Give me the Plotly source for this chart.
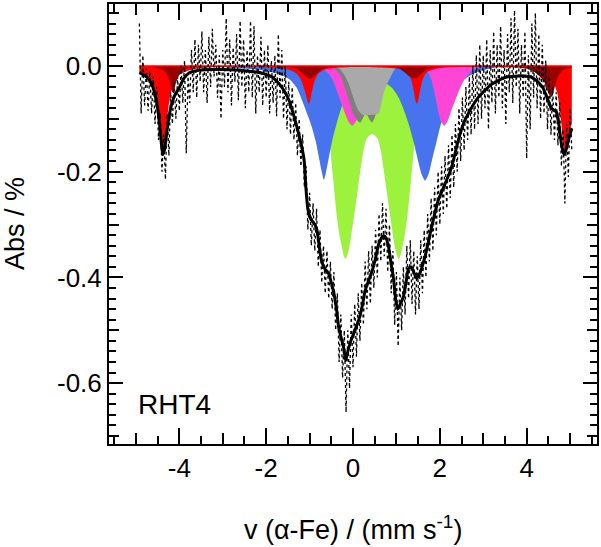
import plotly.graph_objects as go

# ---------------- data ----------------
# measured spectrum: channel velocities start / step, absorption values (%)
V_START = -4.92
V_STEP = 0.04
ABS_DATA = [0.08, -0.09, 0.02, -0.075, -0.005, -0.085, -0.01, -0.09, -0.02, -0.11,
            -0.04, -0.14, -0.09, -0.2, -0.13, -0.215, -0.09, -0.17, -0.05, -0.11,
            -0.03, -0.1, -0.02, -0.085, 0.0, -0.07, 0.01, -0.165, -0.02, -0.07,
            0.03, -0.05, 0.05, -0.06, 0.04, -0.03, 0.065, -0.05, 0.03, -0.07,
            0.055, -0.04, 0.07, -0.02, 0.04, -0.06, 0.02, -0.1, 0.03, -0.04,
            0.09, -0.05, 0.05, -0.075, 0.035, -0.03, 0.06, -0.065, 0.085, -0.04,
            0.05, -0.08, 0.03, -0.05, 0.085, -0.06, 0.075, -0.09, 0.02, -0.05,
            0.055, -0.075, 0.03, -0.06, 0.04, -0.09, 0.01, -0.07, 0.02, -0.095,
            0.06, -0.06, 0.03, -0.1, 0.0, -0.12, -0.03, -0.13, -0.04, -0.14,
            -0.07, -0.17, -0.1, -0.19, -0.13, -0.23, -0.19, -0.31, -0.24, -0.34,
            -0.26, -0.35, -0.27, -0.38, -0.31, -0.41, -0.34, -0.43, -0.35, -0.44,
            -0.37, -0.46, -0.39, -0.5, -0.43, -0.56, -0.47, -0.59, -0.5, -0.655,
            -0.5, -0.61, -0.47, -0.57, -0.45, -0.55, -0.43, -0.52, -0.41, -0.49,
            -0.37, -0.46, -0.35, -0.45, -0.34, -0.42, -0.31, -0.4, -0.28, -0.37,
            -0.26, -0.36, -0.27, -0.39, -0.3, -0.43, -0.35, -0.49, -0.39, -0.53,
            -0.4, -0.5, -0.38, -0.47, -0.34, -0.44, -0.33, -0.45, -0.35, -0.47,
            -0.36, -0.46, -0.33, -0.43, -0.31, -0.4, -0.28, -0.37, -0.25, -0.35,
            -0.23, -0.32, -0.2, -0.3, -0.19, -0.28, -0.17, -0.27, -0.15, -0.25,
            -0.13, -0.23, -0.11, -0.2, -0.08, -0.18, -0.06, -0.16, -0.04, -0.14,
            -0.02, -0.13, 0.0, -0.12, 0.02, -0.11, 0.04, -0.1, 0.02, -0.08,
            0.05, -0.12, 0.03, -0.07, 0.065, -0.09, 0.04, -0.06, 0.075, -0.08,
            0.03, -0.11, 0.06, -0.05, 0.09, -0.07, 0.105, -0.04, 0.07, -0.09,
            0.04, -0.06, 0.065, -0.175, 0.02, -0.12, 0.08, -0.06, 0.1, -0.08,
            0.06, -0.1, 0.04, -0.09, 0.01, -0.12, -0.02, -0.13, -0.04, -0.14,
            -0.05, -0.15, -0.07, -0.19, -0.12, -0.26, -0.11, -0.21, -0.08, -0.16]

# total fit
FIT_V = [-4.92, -4.8, -4.7, -4.62, -4.55, -4.5, -4.45, -4.41, -4.38, -4.34, -4.28, -4.2,
         -4.12, -4.0, -3.9, -3.77, -3.6, -3.3, -3.0, -2.7, -2.4, -2.2, -2.0, -1.85,
         -1.7, -1.58, -1.47, -1.36, -1.25, -1.13, -1.09, -1.04, -0.97, -0.88, -0.83,
         -0.78, -0.72, -0.64, -0.56, -0.5, -0.44, -0.38, -0.33, -0.27, -0.21, -0.17,
         -0.12, -0.05, 0.02, 0.13, 0.21, 0.28, 0.36, 0.45, 0.51, 0.6, 0.7, 0.76, 0.82,
         0.88, 0.93, 0.98, 1.03, 1.09, 1.16, 1.22, 1.28, 1.34, 1.4, 1.47, 1.55, 1.66,
         1.81, 1.96, 2.12, 2.27, 2.42, 2.55, 2.65, 2.88, 3.19, 3.5, 3.8, 3.95, 4.1,
         4.18, 4.28, 4.37, 4.47, 4.56, 4.63, 4.68, 4.74, 4.79, 4.83, 4.86, 4.91, 4.97, 5.04]
FIT_A = [-0.013, -0.018, -0.026, -0.038, -0.058, -0.08, -0.115, -0.15, -0.168, -0.158, -0.12, -0.08,
         -0.058, -0.041, -0.024, -0.013, -0.009, -0.007, -0.007, -0.008, -0.01, -0.012, -0.016, -0.022,
         -0.034, -0.048, -0.066, -0.095, -0.129, -0.175, -0.225, -0.27, -0.29, -0.3, -0.31,
         -0.34, -0.37, -0.385, -0.393, -0.41, -0.43, -0.46, -0.494, -0.515, -0.535, -0.557,
         -0.54, -0.52, -0.505, -0.481, -0.455, -0.425, -0.406, -0.385, -0.367, -0.335, -0.321, -0.325, -0.343,
         -0.375, -0.40, -0.44, -0.46, -0.45, -0.437, -0.41, -0.383, -0.38, -0.39, -0.402, -0.39, -0.36,
         -0.305, -0.255, -0.223, -0.192, -0.142, -0.108, -0.091, -0.06, -0.035, -0.022, -0.019, -0.019, -0.021,
         -0.025, -0.032, -0.041, -0.06, -0.079, -0.084, -0.087, -0.11, -0.142, -0.16, -0.167, -0.158, -0.138, -0.118]

# sub-spectra (drawn bottom to top)
GREEN_V = [-1.2, -1.0, -0.85, -0.7, -0.6, -0.52, -0.45, -0.37, -0.3, -0.25, -0.21, -0.17, -0.12, -0.06,
           0.02, 0.1, 0.17, 0.24, 0.32, 0.44, 0.56, 0.64, 0.71, 0.78, 0.86, 0.94, 1.0, 1.05, 1.09,
           1.13, 1.18, 1.25, 1.33, 1.4, 1.48, 1.58, 1.73, 1.88, 2.1]
GREEN_A = [0.0, -0.01, -0.025, -0.06, -0.1, -0.16, -0.22, -0.286, -0.325, -0.345, -0.36, -0.365, -0.355, -0.33,
           -0.286, -0.24, -0.198, -0.16, -0.137, -0.129, -0.137, -0.16, -0.198, -0.24, -0.286, -0.33, -0.355, -0.365, -0.36,
           -0.345, -0.325, -0.286, -0.22, -0.16, -0.1, -0.06, -0.025, -0.01, 0.0]

BLUE_V = [-2.95, -2.8, -2.5, -2.2, -2.0, -1.8, -1.6, -1.45, -1.3, -1.15, -1.05, -0.95, -0.86, -0.78,
          -0.72, -0.67, -0.62, -0.56, -0.48, -0.38, -0.25, -0.1, 0.1, 0.3, 0.5, 0.7, 0.9, 1.05, 1.2,
          1.3, 1.4, 1.5, 1.58, 1.66, 1.74, 1.82, 1.92, 2.02, 2.15, 2.3, 2.5, 2.7, 3.0, 3.3, 3.5]
BLUE_A = [0.0, -0.004, -0.005, -0.007, -0.01, -0.013, -0.019, -0.026, -0.041, -0.07, -0.092, -0.115, -0.142, -0.175,
          -0.2, -0.215, -0.2, -0.175, -0.142, -0.11, -0.075, -0.05, -0.033, -0.028, -0.027, -0.03, -0.042, -0.06, -0.09,
          -0.115, -0.145, -0.18, -0.205, -0.217, -0.205, -0.178, -0.145, -0.112, -0.083, -0.058, -0.03, -0.018, -0.008, -0.003, 0.0]

MAGENTA_V = [-0.9, -0.7, -0.55, -0.45, -0.33, -0.25, -0.17, -0.1, -0.02, 0.06, 0.14, 0.25, 0.35, 0.5,
             0.7, 0.9, 1.2, 1.55, 1.7, 1.8, 1.9, 1.97, 2.03, 2.1, 2.17, 2.25, 2.35, 2.45, 2.55, 2.7, 2.85, 3.0]
MAGENTA_A = [0.0, -0.006, -0.016, -0.03, -0.057, -0.075, -0.093, -0.106, -0.113, -0.106, -0.09, -0.065, -0.045, -0.022,
             -0.008, -0.003, -0.001, -0.002, -0.009, -0.025, -0.06, -0.088, -0.105, -0.113, -0.106, -0.088, -0.066, -0.045,
             -0.028, -0.012, -0.004, 0.0]

DGRAY_V = [-0.6, -0.45, -0.35, -0.25, -0.17, -0.08, 0.0, 0.06, 0.12, 0.17, 0.22, 0.28, 0.33, 0.39, 0.44,
           0.49, 0.56, 0.65, 0.75, 0.9, 1.05]
DGRAY_A = [0.0, -0.005, -0.012, -0.027, -0.047, -0.07, -0.09, -0.099, -0.105, -0.107, -0.1, -0.092, -0.094, -0.103,
           -0.107, -0.1, -0.08, -0.05, -0.025, -0.008, 0.0]

LGRAY_V = [-0.4, -0.3, -0.2, -0.1, 0.0, 0.07, 0.13, 0.21, 0.3, 0.4, 0.5, 0.59, 0.65, 0.7, 0.78, 0.86, 0.97, 1.1]
LGRAY_A = [0.0, -0.006, -0.017, -0.034, -0.058, -0.075, -0.085, -0.092, -0.093, -0.093, -0.092, -0.09, -0.072,
           -0.053, -0.035, -0.022, -0.006, 0.0]

RED_V = [-4.92, -4.8, -4.7, -4.6, -4.55, -4.5, -4.45, -4.4, -4.38, -4.35, -4.3, -4.25, -4.2, -4.1, -4.0,
         -3.8, -3.5, -3.0, -2.0, -1.5, -1.3, -1.2, -1.15, -1.1, -1.05, -1.02, -0.99, -0.95, -0.9, -0.8,
         -0.6, 0.0, 1.0, 1.2, 1.3, 1.35, 1.4, 1.44, 1.47, 1.5, 1.55, 1.6, 1.7, 2.0, 3.0, 4.0, 4.3, 4.5,
         4.6, 4.7, 4.75, 4.8, 4.85, 4.9, 4.95, 5.0, 5.04]
RED_A = [-0.012, -0.016, -0.022, -0.04, -0.057, -0.083, -0.122, -0.152, -0.155, -0.148, -0.115, -0.078, -0.053,
         -0.028, -0.017, -0.009, -0.004, -0.002, -0.003, -0.007, -0.015, -0.026, -0.037, -0.05, -0.066, -0.072,
         -0.067, -0.05, -0.033, -0.015, -0.006, -0.002, -0.005, -0.009, -0.019, -0.029, -0.048, -0.066, -0.072,
         -0.066, -0.044, -0.027, -0.012, -0.004, -0.002, -0.005, -0.01, -0.019, -0.029, -0.05, -0.075, -0.11,
         -0.155, -0.168, -0.15, -0.125, -0.105]

MAROON_V = [-4.92, -4.6, -4.5, -4.4, -4.3, -4.25, -4.2, -4.16, -4.12, -4.08, -4.0, -3.9, -3.8, -3.5, -1.5,
            -1.3, -1.2, -1.1, -1.0, -0.9, -0.8, -0.7, -0.5, 1.0, 1.1, 1.2, 1.3, 1.4, 1.5, 1.6, 1.7, 1.9,
            3.8, 4.0, 4.15, 4.3, 4.4, 4.48, 4.56, 4.62, 4.68, 4.76, 4.86, 5.04]
MAROON_A = [0.0, -0.002, -0.004, -0.007, -0.014, -0.022, -0.036, -0.05, -0.046, -0.033, -0.017, -0.008, -0.004,
            -0.001, -0.002, -0.006, -0.011, -0.019, -0.025, -0.02, -0.012, -0.006, -0.002, -0.003, -0.007, -0.013,
            -0.02, -0.024, -0.021, -0.013, -0.007, -0.003, -0.002, -0.005, -0.01, -0.02, -0.03, -0.047, -0.06,
            -0.048, -0.03, -0.015, -0.007, -0.003]

COMPONENTS = [
    ("green", GREEN_V, GREEN_A, "#9CF23C"),
    ("blue", BLUE_V, BLUE_A, "#4774EE"),
    ("magenta", MAGENTA_V, MAGENTA_A, "#FF45D6"),
    ("darkgray", DGRAY_V, DGRAY_A, "#7F7F7F"),
    ("lightgray", LGRAY_V, LGRAY_A, "#A9A9A9"),
    ("red", RED_V, RED_A, "#FF0000"),
    ("maroon", MAROON_V, MAROON_A, "#980000"),
]

X_LABEL_TICKS = [-4, -2, 0, 2, 4]
X_LABELS = ["-4", "-2", "0", "2", "4"]
X_MID_TICKS = [-5, -3, -1, 1, 3, 5]
Y_LABEL_TICKS = [0.0, -0.2, -0.4, -0.6]
Y_LABELS = ["0.0", "-0.2", "-0.4", "-0.6"]
Y_MID_TICKS = [0.1, -0.1, -0.3, -0.5, -0.7]

X_RANGE = [-5.62, 5.62]
Y_RANGE = [-0.715, 0.117]

# ---------------- figure ----------------
FONT = "Arial, Liberation Sans, Helvetica, sans-serif"
fig = go.Figure()

for name, xs, ys, col in COMPONENTS:
    fig.add_trace(go.Scatter(x=xs, y=ys, mode="lines", fill="tozeroy", fillcolor=col,
                             line=dict(width=0, color=col, shape="spline", smoothing=0.7),
                             name=name, hoverinfo="skip"))

# red baseline of the sextet
fig.add_trace(go.Scatter(x=[RED_V[0], RED_V[-1]], y=[0, 0], mode="lines",
                         line=dict(color="#FF0000", width=1.5), hoverinfo="skip"))

vel = [V_START + V_STEP * i for i in range(len(ABS_DATA))]
fig.add_trace(go.Scatter(x=vel, y=ABS_DATA, mode="lines",
                         line=dict(color="black", width=1.3, dash="dot")))
fig.add_trace(go.Scatter(x=FIT_V, y=FIT_A, mode="lines",
                         line=dict(color="black", width=3, shape="spline", smoothing=0.6)))
# empty trace carrying the overlay axes used for the medium-length ticks
fig.add_trace(go.Scatter(x=[None], y=[None], xaxis="x2", yaxis="y2", mode="lines",
                         hoverinfo="skip"))

fig.update_layout(
    width=601, height=547,
    margin=dict(l=109, r=2, t=2, b=103),
    plot_bgcolor="white", paper_bgcolor="white",
    showlegend=False,
    font=dict(family=FONT, color="black", size=26),
    xaxis=dict(
        range=X_RANGE, showgrid=False, zeroline=False,
        showline=True, linecolor="black", linewidth=2, mirror="ticks",
        ticks="inside", ticklen=16, tickwidth=2, tickcolor="black",
        tickmode="array", tickvals=X_LABEL_TICKS, ticktext=X_LABELS,
        tickfont=dict(size=26, family=FONT),
        minor=dict(ticks="inside", ticklen=8, tickwidth=2, tickcolor="black",
                   tickmode="array", tickvals=[v + 0.5 for v in range(-6, 6)]),
    ),
    yaxis=dict(
        range=Y_RANGE, showgrid=False, zeroline=False,
        showline=True, linecolor="black", linewidth=2, mirror="ticks",
        ticks="inside", ticklen=14, tickwidth=2, tickcolor="black",
        tickmode="array", tickvals=Y_LABEL_TICKS, ticktext=Y_LABELS,
        tickfont=dict(size=26, family=FONT),
        minor=dict(ticks="inside", ticklen=7, tickwidth=2, tickcolor="black",
                   tickmode="array", tickvals=[round(-0.7 + 0.02 * k, 2) for k in range(41)]),
    ),
    xaxis2=dict(overlaying="x", range=X_RANGE, showgrid=False, zeroline=False, showline=False,
                ticks="inside", ticklen=11, tickwidth=2, tickcolor="black", mirror="ticks",
                tickmode="array", tickvals=X_MID_TICKS, showticklabels=False),
    yaxis2=dict(overlaying="y", range=Y_RANGE, showgrid=False, zeroline=False, showline=False,
                ticks="inside", ticklen=10, tickwidth=2, tickcolor="black", mirror="ticks",
                tickmode="array", tickvals=Y_MID_TICKS, showticklabels=False),
)

fig.add_annotation(text="Abs / %", xref="paper", yref="paper", x=0, y=0.5,
                   xanchor="center", yanchor="middle", textangle=-90, xshift=-94,
                   showarrow=False, font=dict(size=27, family=FONT))
fig.add_annotation(text="v (α-Fe) / (mm s<sup>-1</sup>)", xref="paper", yref="paper", x=0.5, y=0,
                   xanchor="center", yanchor="middle", yshift=-84,
                   showarrow=False, font=dict(size=27, family=FONT))
fig.add_annotation(text="RHT4", xref="x", yref="y", x=-5.0, y=-0.64,
                   xanchor="left", yanchor="middle",
                   showarrow=False, font=dict(size=28, family=FONT))

fig.write_html("out.html", config={"displayModeBar": False},
               post_script="document.body.style.margin='0px';")
